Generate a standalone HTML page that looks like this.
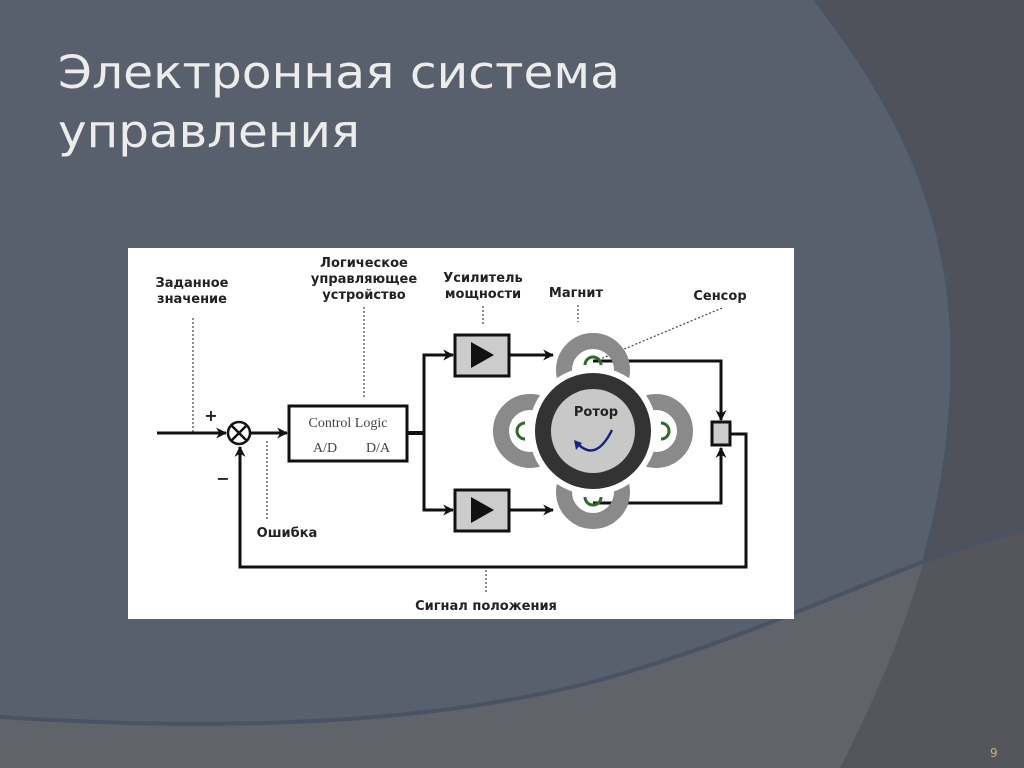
<!DOCTYPE html>
<html><head><meta charset="utf-8"><style>html,body{margin:0;padding:0;width:1024px;height:768px;overflow:hidden;background:#50535b}</style></head><body>
<svg width="1024" height="768" viewBox="0 0 1024 768" xmlns="http://www.w3.org/2000/svg">
<defs>
<marker id="ar" viewBox="0 0 10 10" refX="9" refY="5" markerWidth="11" markerHeight="11" markerUnits="userSpaceOnUse" orient="auto"><path d="M0,0 L10,5 L0,10 L3,5z" fill="#111"/></marker>
<clipPath id="ell"><path d="M0,0 L815,0 C900,110 955,220 952,370 C950,520 900,650 840,768 L0,768z"/></clipPath>
</defs>
<rect width="1024" height="768" fill="#4f525a"/>
<path d="M0,0 L815,0 C900,110 955,220 952,370 C950,520 900,650 840,768 L0,768z" fill="#59606d"/>
<path d="M815,0 C900,110 955,220 952,370 C950,520 900,650 840,768" fill="none" stroke="#4a5263" stroke-width="3"/>
<path d="M0,717 C200,730 420,728 600,680 C780,630 900,560 1024,530 L1024,768 L0,768z" fill="#54565b"/>
<path d="M0,717 C200,730 420,728 600,680 C780,630 900,560 1024,530 L1024,768 L0,768z" fill="#606369" clip-path="url(#ell)"/>
<path d="M0,717 C200,730 420,728 600,680 C780,630 900,560 1024,530" fill="none" stroke="#4a5263" stroke-width="4"/>
<text x="58" y="88" font-family="DejaVu Sans, sans-serif" font-size="45" fill="#ececec" textLength="562" lengthAdjust="spacingAndGlyphs">Электронная система</text>
<text x="58" y="147" font-family="DejaVu Sans, sans-serif" font-size="45" fill="#ececec" textLength="302" lengthAdjust="spacingAndGlyphs">управления</text>
<text x="990" y="757" font-family="DejaVu Sans, sans-serif" font-size="12" fill="#c8b27a">9</text>

<rect x="128" y="248" width="666" height="371" fill="#fff"/>
<g font-family="DejaVu Sans, sans-serif" font-size="13" font-weight="bold" fill="#222" text-anchor="middle">
<text x="192" y="287">Заданное</text><text x="192" y="303">значение</text>
<text x="364" y="267">Логическое</text><text x="364" y="283">управляющее</text><text x="364" y="299">устройство</text>
<text x="483" y="282">Усилитель</text><text x="483" y="298">мощности</text>
<text x="576" y="297">Магнит</text>
<text x="720" y="300">Сенсор</text>
<text x="287" y="537">Ошибка</text>
<text x="486" y="610">Сигнал положения</text>
<text x="211" y="421" font-size="16">+</text>
<text x="223" y="484" font-size="16">−</text>
</g>
<g stroke="#444" stroke-width="1.2" stroke-dasharray="2,2" fill="none">
<line x1="193" y1="318" x2="193" y2="432"/>
<line x1="364" y1="307" x2="364" y2="397"/>
<line x1="483" y1="306" x2="483" y2="326"/>
<line x1="578" y1="305" x2="578" y2="322"/>
<line x1="722" y1="308" x2="598" y2="360"/>
<line x1="267" y1="441" x2="267" y2="520"/>
<line x1="486" y1="570" x2="486" y2="592"/>
</g>
<g stroke="#111" stroke-width="3" fill="none">
<line x1="157" y1="433" x2="226" y2="433" marker-end="url(#ar)"/>
<line x1="251" y1="433" x2="287" y2="433" marker-end="url(#ar)"/>
<line x1="407" y1="433" x2="424" y2="433" stroke-width="4"/>
<polyline points="424,433 424,355 453,355" marker-end="url(#ar)"/>
<polyline points="424,433 424,510 453,510" marker-end="url(#ar)"/>
<line x1="509" y1="355" x2="553" y2="355" marker-end="url(#ar)"/>
<line x1="509" y1="510" x2="553" y2="510" marker-end="url(#ar)"/>
<polyline points="593,361 721,361 721,420" marker-end="url(#ar)"/>
<polyline points="593,503 721,503 721,448" marker-end="url(#ar)"/>
<polyline points="730,434 746,434 746,567 240,567 240,447" marker-end="url(#ar)"/>
</g>
<circle cx="239" cy="433" r="11" fill="#fff" stroke="#111" stroke-width="2.5"/>
<line x1="231" y1="425" x2="247" y2="441" stroke="#111" stroke-width="2.5"/>
<line x1="247" y1="425" x2="231" y2="441" stroke="#111" stroke-width="2.5"/>
<rect x="289" y="406" width="118" height="55" fill="#fff" stroke="#111" stroke-width="3"/>
<g font-family="Liberation Serif, serif" font-size="14" fill="#444" text-anchor="middle">
<text x="348" y="427">Control Logic</text><text x="325" y="452">A/D</text><text x="378" y="452">D/A</text>
</g>
<rect x="455" y="335" width="54" height="41" fill="#ccc" stroke="#111" stroke-width="3"/>
<path d="M471,342 L494,355 L471,368z" fill="#111"/>
<rect x="455" y="490" width="54" height="41" fill="#ccc" stroke="#111" stroke-width="3"/>
<path d="M471,497 L494,510 L471,523z" fill="#111"/>
<g fill="none" stroke="#8a8a8a" stroke-width="16">
<circle cx="593" cy="370" r="29"/><circle cx="593" cy="492" r="29"/>
<circle cx="530" cy="431" r="29"/><circle cx="656" cy="431" r="29"/>
</g>
<g fill="none" stroke="#2e6b2e" stroke-width="3">
<path d="M585,365 A8,8 0 0 1 601,365"/><path d="M585,497 A8,8 0 0 0 601,497"/>
<path d="M525,423 A8,8 0 0 0 525,439"/><path d="M661,423 A8,8 0 0 1 661,439"/>
</g>
<circle cx="593" cy="431" r="64" fill="#fff"/>
<circle cx="593" cy="431" r="58" fill="#333"/>
<circle cx="593" cy="431" r="42" fill="#c8c8c8"/>
<text x="596" y="416" font-family="DejaVu Sans, sans-serif" font-size="13" font-weight="bold" fill="#222" text-anchor="middle">Ротор</text>
<path d="M578,444 Q596,462 612,430" fill="none" stroke="#1a237e" stroke-width="2.5"/>
<path d="M574,440 L582,443 L576,450z" fill="#1a237e"/>
<rect x="712" y="422" width="18" height="23" fill="#ccc" stroke="#111" stroke-width="3"/>
</svg>
</body></html>
